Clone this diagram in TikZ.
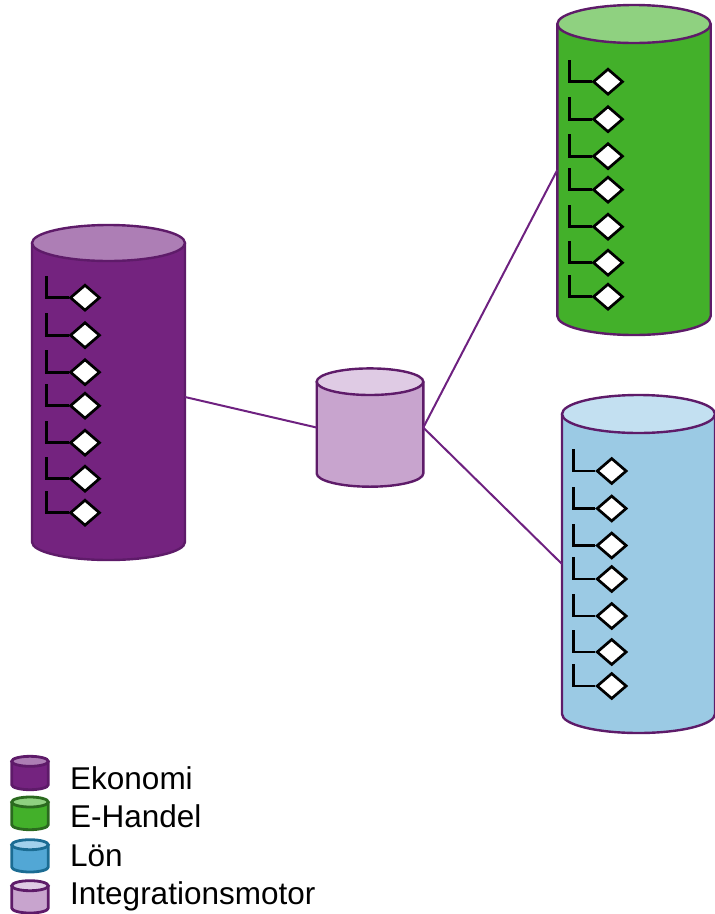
\documentclass[tikz,border=0pt]{standalone}
\usepackage{fontspec}
\setmainfont{Liberation Sans}
\usetikzlibrary{shapes.geometric}

\definecolor{kantlila}{HTML}{5E1B69}
\definecolor{linjelila}{HTML}{6E2180}
\definecolor{ekokropp}{HTML}{74237F}
\definecolor{ekotopp}{HTML}{AD7EB5}
\definecolor{handelkropp}{HTML}{43B02A}
\definecolor{handeltopp}{HTML}{8FD180}
\definecolor{handelkant}{HTML}{2B6A1F}
\definecolor{lonkropp}{HTML}{9BCAE4}
\definecolor{lontopp}{HTML}{C3E0F1}
\definecolor{lonikon}{HTML}{52A7D5}
\definecolor{lonikontopp}{HTML}{A3D1EC}
\definecolor{lonkant}{HTML}{1B6C93}
\definecolor{motorkropp}{HTML}{C8A4CE}
\definecolor{motortopp}{HTML}{DFCBE4}

\tikzset{
  kropp/.style={rectangle, inner sep=0pt, outer sep=0pt},
  blad/.style={diamond, draw=black, fill=white, line width=2.7pt, minimum width=30pt, minimum height=26pt, inner sep=0pt},
  gren/.style={black, line width=2.7pt},
  koppling/.style={draw=linjelila, line width=2pt},
  etikett/.style={anchor=base west, font=\fontsize{31.5}{36}\selectfont, inner sep=0pt}
}

\begin{document}
\begin{tikzpicture}[x=1pt, y=-1pt]
  \useasboundingbox (0,0) rectangle (715,914);

  % Databaser och teckenforklaring
  \foreach \n/\x/\yo/\yu/\rx/\ry/\k/\t/\e/\lw in {
      ekonomi/108.5/243/542/76.5/18/ekokropp/ekotopp/kantlila/2.4pt,
      motor/370/381.7/473.4/53.3/13.3/motorkropp/motortopp/kantlila/2.4pt,
      ehandel/634/24/316/76.7/19/handelkropp/handeltopp/kantlila/2.4pt,
      lon/638.5/414/714/76.5/19/lonkropp/lontopp/kantlila/2.4pt,
      ikon-eko/30/761.3/784.7/18.3/5/ekokropp/ekotopp/kantlila/2.8pt,
      ikon-handel/30/802/824.7/18.3/5/handelkropp/handeltopp/handelkant/2.8pt,
      ikon-lon/30/844.7/867/18.3/5/lonikon/lonikontopp/lonkant/2.8pt,
      ikon-motor/30/885.7/908/18.3/5/motorkropp/motortopp/kantlila/2.8pt} {
    \node [kropp, minimum width=2*\rx*1pt, minimum height=(\yu-\yo)*1pt] (\n) at (\x,{(\yo+\yu)/2}) {};
    \path [fill=\k, draw=\e, line width=\lw] (\n.north west) -- (\n.south west)
      arc [start angle=180, end angle=360, x radius=\rx*1pt, y radius=\ry*1pt] -- (\n.north east);
    \path [fill=\t, draw=\e, line width=\lw] (\n.north) ellipse [x radius=\rx*1pt, y radius=\ry*1pt];
  }

  % Tabeller
  \foreach \db/\x/\y in {ekonomi/85/297.7, ehandel/608/81.7, lon/611.7/471}
    \foreach \nr/\dy in {1/0, 2/37.5, 3/74.5, 4/108, 5/145, 6/181, 7/215} {
      \node [blad] (\db-\nr) at (\x,\y+\dy) {};
      \draw [gren] (\db-\nr.west) -| ++(-22,-22);
    }

  % Kopplingar
  \draw [koppling] ([yshift=-4.5pt]ekonomi.east) -- (motor.west);
  \draw [koppling] (motor.east) -- (ehandel.west);
  \draw [koppling] (motor.east) -- (lon.west);

  % Texter
  \node [etikett] (text-eko) at (70,789) {Ekonomi};
  \node [etikett] (text-handel) at (70,827) {E-Handel};
  \node [etikett] (text-lon) at (70,866) {Lön};
  \node [etikett] (text-motor) at (70,904) {Integrationsmotor};
\end{tikzpicture}
\end{document}
